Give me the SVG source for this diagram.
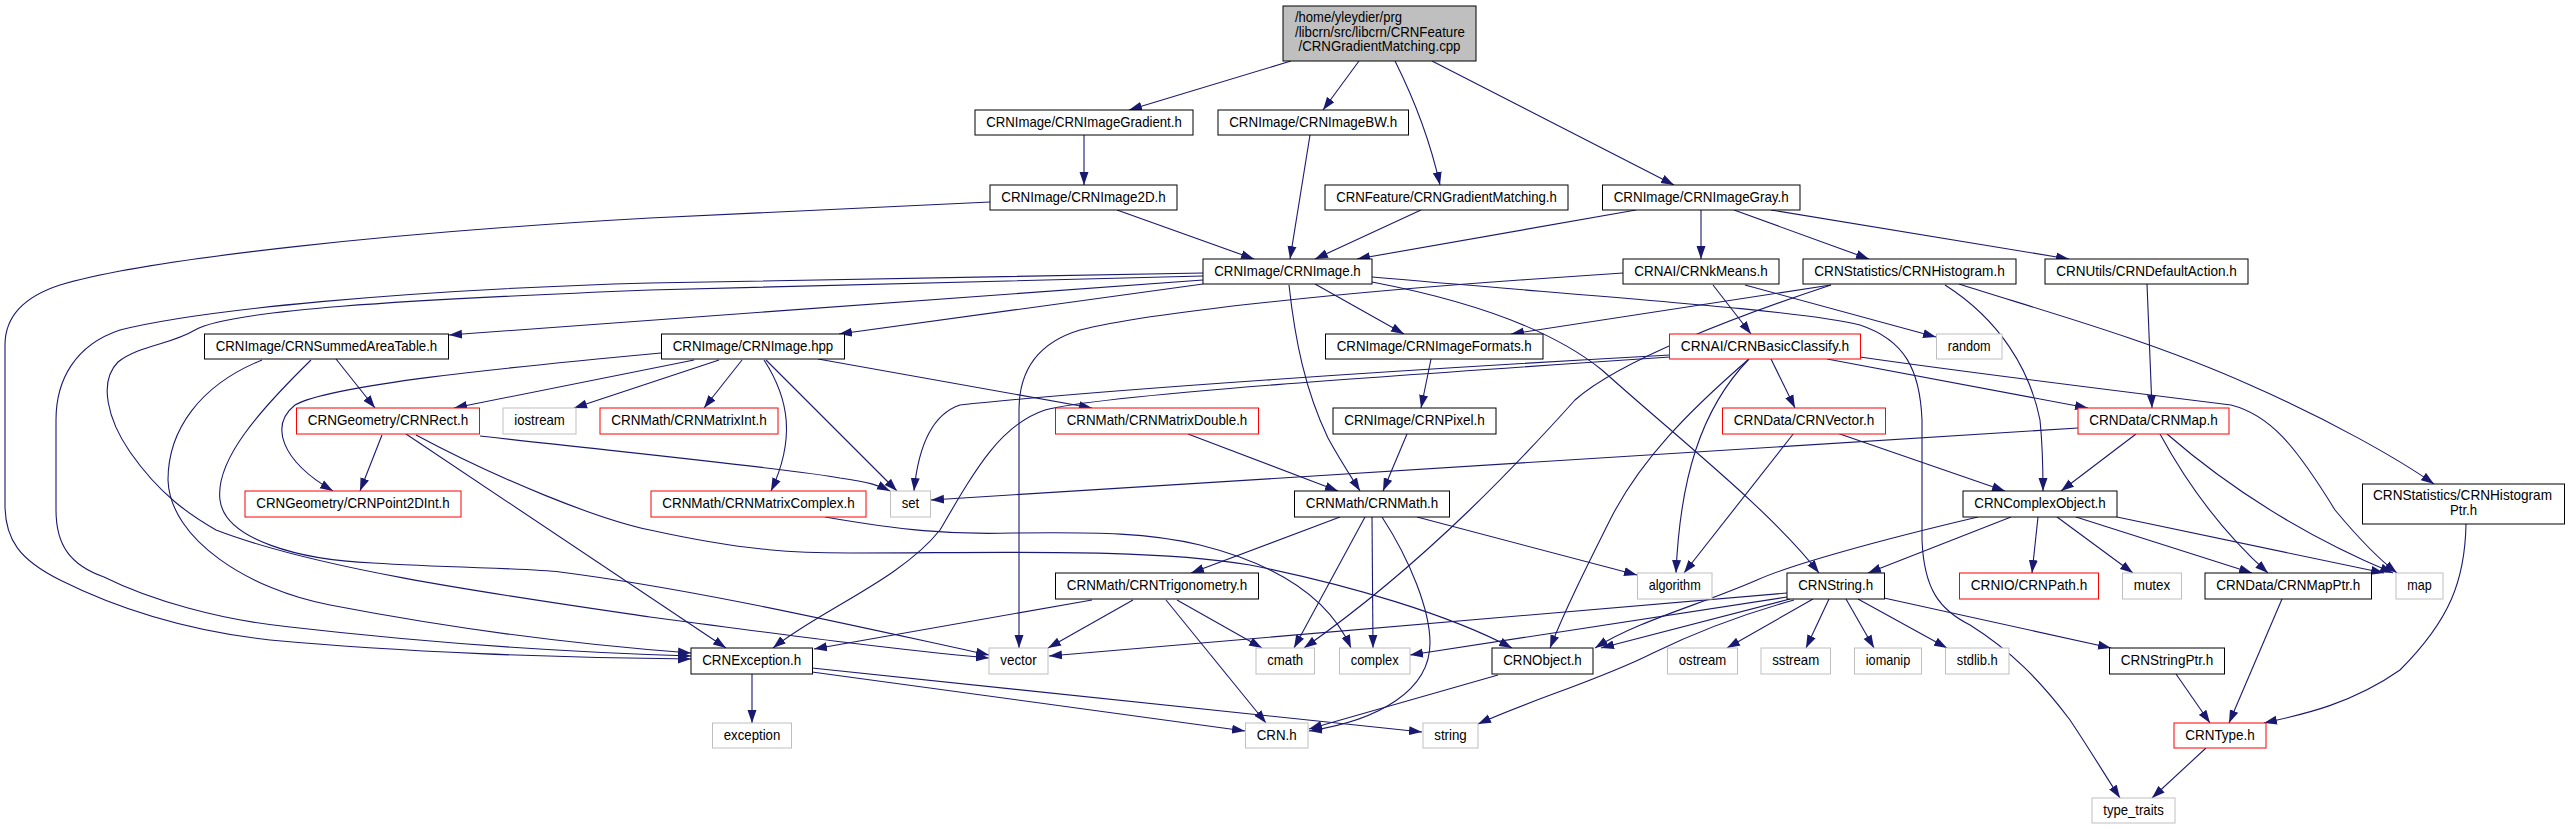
<svg xmlns="http://www.w3.org/2000/svg" width="2569" height="829" viewBox="0 0 2569 829">
<style>
rect{stroke-width:1}
.k{fill:#fff;stroke:#000}
.r{fill:#fff;stroke:#f00}
.g{fill:#fff;stroke:#bfbfbf}
.root{fill:#bfbfbf;stroke:#000}
text{font-family:"Liberation Sans",Arial,Helvetica,sans-serif;font-size:14.5px;fill:#000;text-anchor:middle}
.st{text-anchor:start}
#edges path{fill:none;stroke:#191970;stroke-width:1.1;marker-end:url(#ah)}
</style>
<defs>
<marker id="ah" markerUnits="userSpaceOnUse" markerWidth="14" markerHeight="10" refX="13" refY="5" orient="auto">
<path d="M0,0.5 L13,5 L0,9.5 z" fill="#191970"/>
</marker>
</defs>
<rect x="0" y="0" width="2569" height="829" fill="#fff"/>
<g id="edges">
<path d="M1291,61 L1129,110"/>
<path d="M1359,61 L1323,110"/>
<path d="M1395,61 C1412,95 1430,140 1440,185"/>
<path d="M1432,61 L1674,185"/>
<path d="M1084,135 L1084,185"/>
<path d="M1117,210 L1254,259"/>
<path d="M1310,135 L1290,259"/>
<path d="M1421,210 L1315,259"/>
<path d="M1636,210 L1357,259"/>
<path d="M1701,210 L1701,259"/>
<path d="M1734,210 L1869,259"/>
<path d="M1771,210 L2069,259"/>
<path d="M990,202 L650,218 C400,232 150,258 60,285 C20,298 5,320 5,345 L5,505 C5,540 20,560 60,580 C110,605 180,630 270,640 C400,652 560,658 691,659"/>
<path d="M1203,273 L650,283 C400,290 200,310 120,330 C75,345 56,380 56,420 L56,510 C56,545 70,565 104,577 C150,600 220,620 290,627 C420,642 560,652 691,656"/>
<path d="M1203,276 L650,290 C400,300 230,310 195,330 C170,345 140,345 118,362 C98,382 108,420 130,452 C160,495 190,515 216,530 C320,570 500,595 650,617 C800,637 900,650 989,658"/>
<path d="M1203,280 C900,302 650,322 449,335"/>
<path d="M1203,284 L839,334"/>
<path d="M1315,284 L1404,334"/>
<path d="M1289,285 C1295,340 1305,390 1328,438 C1340,460 1350,475 1360,491"/>
<path d="M1372,282 C1440,295 1540,320 1602,370 C1680,440 1770,510 1819,573"/>
<path d="M1372,277 C1600,297 1800,310 1860,325 C1905,340 1920,370 1922,420 L1922,540 C1924,590 1940,610 1970,625 C2010,650 2040,680 2070,720 C2090,750 2105,775 2120,798"/>
<path d="M1713,285 L1751,334"/>
<path d="M1745,285 L1936,337"/>
<path d="M1623,273 L1520,280 C1350,292 1150,312 1080,330 C1030,345 1019,380 1019,410 L1019,648"/>
<path d="M1831,285 L1511,334"/>
<path d="M1831,285 C1740,315 1620,360 1575,400 C1530,450 1430,560 1304,648"/>
<path d="M1945,285 C2000,320 2030,370 2040,420 C2043,450 2043,470 2043,491"/>
<path d="M1959,284 C2040,310 2150,340 2250,385 C2330,420 2400,460 2434,484"/>
<path d="M2147,284 L2152,408"/>
<path d="M336,359 L375,408"/>
<path d="M262,360 C200,385 168,430 168,480 C170,540 250,590 330,605 C450,628 580,645 691,653"/>
<path d="M311,360 C260,410 215,460 220,500 C225,540 300,560 373,563 C450,568 530,568 560,572 C700,590 850,625 989,655"/>
<path d="M661,353 C500,368 330,385 295,405 C270,425 280,460 333,491"/>
<path d="M694,360 L454,408"/>
<path d="M719,360 L574,408"/>
<path d="M742,360 L704,408"/>
<path d="M764,360 C790,400 795,440 771,491"/>
<path d="M766,360 L897,491"/>
<path d="M818,359 L1092,408"/>
<path d="M1431,359 L1421,408"/>
<path d="M1771,359 L1795,408"/>
<path d="M1827,359 L2088,408"/>
<path d="M1860,357 C1950,370 2150,395 2231,405 C2270,415 2295,445 2335,510 C2360,540 2380,560 2397,573"/>
<path d="M1670,355 C1400,370 1100,390 960,405 C930,415 918,450 914,491"/>
<path d="M1670,357 C1400,375 1100,395 1045,410 C1000,425 975,470 940,530 C900,580 820,610 773,648"/>
<path d="M1749,359 C1700,410 1680,480 1676,573"/>
<path d="M1749,359 C1690,410 1640,460 1610,520 C1585,570 1565,610 1550,648"/>
<path d="M1794,433 L1684,573"/>
<path d="M1837,433 L2005,491"/>
<path d="M2078,428 L931,500"/>
<path d="M2136,434 L2061,491"/>
<path d="M2160,434 C2185,480 2220,530 2268,573"/>
<path d="M2167,434 C2220,480 2290,530 2393,573"/>
<path d="M382,435 L360,491"/>
<path d="M406,434 L726,648"/>
<path d="M480,436 C650,455 800,470 840,478 C870,482 880,486 890,491"/>
<path d="M416,435 C500,480 600,520 650,530 C750,552 800,553 850,553 C1000,553 1150,548 1250,565 C1350,585 1450,615 1512,648"/>
<path d="M825,517 C900,530 950,535 1013,533 C1100,532 1150,533 1200,545 C1280,565 1330,600 1351,648"/>
<path d="M1188,434 L1338,491"/>
<path d="M1407,434 L1383,491"/>
<path d="M1340,517 L1191,573"/>
<path d="M1365,517 L1294,648"/>
<path d="M1372,517 L1373,648"/>
<path d="M1382,517 C1410,560 1430,610 1430,643 C1430,690 1380,720 1309,731"/>
<path d="M1417,517 L1637,575"/>
<path d="M2011,517 L1868,573"/>
<path d="M1978,517 C1880,540 1790,565 1757,580 C1700,605 1640,620 1595,648"/>
<path d="M2038,517 L2032,573"/>
<path d="M2057,517 L2133,573"/>
<path d="M2076,517 L2252,573"/>
<path d="M2117,517 L2384,573"/>
<path d="M1092,600 L814,649"/>
<path d="M1133,600 L1048,648"/>
<path d="M1177,600 L1262,648"/>
<path d="M1166,600 L1266,723"/>
<path d="M1787,593 L1049,656"/>
<path d="M1787,597 L1410,655"/>
<path d="M1790,599 L1601,648"/>
<path d="M1794,600 C1740,615 1690,635 1653,653 C1600,680 1530,700 1478,724"/>
<path d="M1813,599 L1727,648"/>
<path d="M1829,599 L1806,648"/>
<path d="M1846,599 L1874,648"/>
<path d="M1858,599 L1947,648"/>
<path d="M1884,598 L2111,648"/>
<path d="M752,674 L752,723"/>
<path d="M812,672 L1245,731"/>
<path d="M812,668 L1422,732"/>
<path d="M1498,675 L1309,729"/>
<path d="M2282,599 L2229,723"/>
<path d="M2176,674 L2210,723"/>
<path d="M2466,524 C2465,580 2450,620 2400,670 C2350,705 2300,715 2264,723"/>
<path d="M2206,748 L2152,798"/>
</g>
<g id="root"><rect class="root" x="1283" y="6" width="193" height="55"/>
<text class="st" x="1295" y="21.5" textLength="107" lengthAdjust="spacingAndGlyphs">/home/yleydier/prg</text>
<text class="st" x="1295" y="36.5" textLength="170" lengthAdjust="spacingAndGlyphs">/libcrn/src/libcrn/CRNFeature</text>
<text x="1379.5" y="51" textLength="162" lengthAdjust="spacingAndGlyphs">/CRNGradientMatching.cpp</text></g>
<g id="n_grad"><rect class="k" x="975" y="110" width="218" height="25"/><text x="1084" y="126.8" textLength="195.5" lengthAdjust="spacingAndGlyphs">CRNImage/CRNImageGradient.h</text></g>
<g id="n_bw"><rect class="k" x="1218" y="110" width="190.5" height="25"/><text x="1313.2" y="126.8" textLength="168" lengthAdjust="spacingAndGlyphs">CRNImage/CRNImageBW.h</text></g>
<g id="n_img2d"><rect class="k" x="990" y="185" width="187" height="25"/><text x="1083.5" y="201.8" textLength="164.5" lengthAdjust="spacingAndGlyphs">CRNImage/CRNImage2D.h</text></g>
<g id="n_gm"><rect class="k" x="1325" y="185" width="243" height="25"/><text x="1446.5" y="201.8" textLength="220.5" lengthAdjust="spacingAndGlyphs">CRNFeature/CRNGradientMatching.h</text></g>
<g id="n_gray"><rect class="k" x="1602.5" y="185" width="197.5" height="25"/><text x="1701.2" y="201.8" textLength="175" lengthAdjust="spacingAndGlyphs">CRNImage/CRNImageGray.h</text></g>
<g id="n_img"><rect class="k" x="1203" y="259" width="169" height="25"/><text x="1287.5" y="275.8" textLength="146.5" lengthAdjust="spacingAndGlyphs">CRNImage/CRNImage.h</text></g>
<g id="n_kmeans"><rect class="k" x="1623" y="259" width="156" height="25"/><text x="1701" y="275.8" textLength="133.5" lengthAdjust="spacingAndGlyphs">CRNAI/CRNkMeans.h</text></g>
<g id="n_hist"><rect class="k" x="1803" y="259" width="213" height="25"/><text x="1909.5" y="275.8" textLength="190.5" lengthAdjust="spacingAndGlyphs">CRNStatistics/CRNHistogram.h</text></g>
<g id="n_def"><rect class="k" x="2045" y="259" width="203" height="25"/><text x="2146.5" y="275.8" textLength="180.5" lengthAdjust="spacingAndGlyphs">CRNUtils/CRNDefaultAction.h</text></g>
<g id="n_sat"><rect class="k" x="204.5" y="334" width="244" height="25"/><text x="326.5" y="350.8" textLength="221.5" lengthAdjust="spacingAndGlyphs">CRNImage/CRNSummedAreaTable.h</text></g>
<g id="n_hpp"><rect class="k" x="661.5" y="334" width="183" height="25"/><text x="753" y="350.8" textLength="160.5" lengthAdjust="spacingAndGlyphs">CRNImage/CRNImage.hpp</text></g>
<g id="n_fmt"><rect class="k" x="1325.5" y="334" width="217.5" height="25"/><text x="1434.2" y="350.8" textLength="195" lengthAdjust="spacingAndGlyphs">CRNImage/CRNImageFormats.h</text></g>
<g id="n_bc"><rect class="r" x="1669.5" y="334" width="191" height="25"/><text x="1765" y="350.8" textLength="168.5" lengthAdjust="spacingAndGlyphs">CRNAI/CRNBasicClassify.h</text></g>
<g id="n_random"><rect class="g" x="1936.5" y="334" width="65.5" height="25"/><text x="1969.2" y="350.8" textLength="43" lengthAdjust="spacingAndGlyphs">random</text></g>
<g id="n_rect"><rect class="r" x="296.5" y="408" width="183" height="26"/><text x="388" y="425.3" textLength="160.5" lengthAdjust="spacingAndGlyphs">CRNGeometry/CRNRect.h</text></g>
<g id="n_iostream"><rect class="g" x="503" y="408" width="73" height="26"/><text x="539.5" y="425.3" textLength="50.5" lengthAdjust="spacingAndGlyphs">iostream</text></g>
<g id="n_mint"><rect class="r" x="600" y="408" width="178" height="26"/><text x="689" y="425.3" textLength="155.5" lengthAdjust="spacingAndGlyphs">CRNMath/CRNMatrixInt.h</text></g>
<g id="n_mdbl"><rect class="r" x="1055.5" y="408" width="203" height="26"/><text x="1157" y="425.3" textLength="180.5" lengthAdjust="spacingAndGlyphs">CRNMath/CRNMatrixDouble.h</text></g>
<g id="n_pixel"><rect class="k" x="1333" y="408" width="163" height="26"/><text x="1414.5" y="425.3" textLength="140.5" lengthAdjust="spacingAndGlyphs">CRNImage/CRNPixel.h</text></g>
<g id="n_vec"><rect class="r" x="1722.5" y="408" width="163" height="26"/><text x="1804" y="425.3" textLength="140.5" lengthAdjust="spacingAndGlyphs">CRNData/CRNVector.h</text></g>
<g id="n_map"><rect class="r" x="2078" y="408" width="151" height="26"/><text x="2153.5" y="425.3" textLength="128.5" lengthAdjust="spacingAndGlyphs">CRNData/CRNMap.h</text></g>
<g id="n_p2d"><rect class="r" x="245" y="491" width="216" height="26"/><text x="353" y="508.3" textLength="193.5" lengthAdjust="spacingAndGlyphs">CRNGeometry/CRNPoint2DInt.h</text></g>
<g id="n_mcpx"><rect class="r" x="651" y="491" width="215" height="26"/><text x="758.5" y="508.3" textLength="192.5" lengthAdjust="spacingAndGlyphs">CRNMath/CRNMatrixComplex.h</text></g>
<g id="n_set"><rect class="g" x="890.5" y="491" width="40" height="26"/><text x="910.5" y="508.3" textLength="17.5" lengthAdjust="spacingAndGlyphs">set</text></g>
<g id="n_math"><rect class="k" x="1294.5" y="491" width="155" height="26"/><text x="1372" y="508.3" textLength="132.5" lengthAdjust="spacingAndGlyphs">CRNMath/CRNMath.h</text></g>
<g id="n_cobj"><rect class="k" x="1963" y="491" width="154" height="26"/><text x="2040" y="508.3" textLength="131.5" lengthAdjust="spacingAndGlyphs">CRNComplexObject.h</text></g>
<g id="n_hptr"><rect class="k" x="2362.5" y="484" width="202" height="40"/>
<text class="st" x="2373" y="500" textLength="179" lengthAdjust="spacingAndGlyphs">CRNStatistics/CRNHistogram</text>
<text x="2463.5" y="514.5" textLength="27" lengthAdjust="spacingAndGlyphs">Ptr.h</text></g>
<g id="n_trig"><rect class="k" x="1055.5" y="573" width="203" height="26"/><text x="1157" y="590.3" textLength="180.5" lengthAdjust="spacingAndGlyphs">CRNMath/CRNTrigonometry.h</text></g>
<g id="n_algo"><rect class="g" x="1637.5" y="573" width="74.5" height="26"/><text x="1674.7" y="590.3" textLength="52" lengthAdjust="spacingAndGlyphs">algorithm</text></g>
<g id="n_str"><rect class="k" x="1787" y="573" width="97.5" height="26"/><text x="1835.7" y="590.3" textLength="75" lengthAdjust="spacingAndGlyphs">CRNString.h</text></g>
<g id="n_path"><rect class="r" x="1959.5" y="573" width="139" height="26"/><text x="2029" y="590.3" textLength="116.5" lengthAdjust="spacingAndGlyphs">CRNIO/CRNPath.h</text></g>
<g id="n_mutex"><rect class="g" x="2122.5" y="573" width="59" height="26"/><text x="2152" y="590.3" textLength="36.5" lengthAdjust="spacingAndGlyphs">mutex</text></g>
<g id="n_mptr"><rect class="k" x="2205" y="573" width="166.5" height="26"/><text x="2288.2" y="590.3" textLength="144" lengthAdjust="spacingAndGlyphs">CRNData/CRNMapPtr.h</text></g>
<g id="n_mapstd"><rect class="g" x="2396" y="573" width="47" height="26"/><text x="2419.5" y="590.3" textLength="24.5" lengthAdjust="spacingAndGlyphs">map</text></g>
<g id="n_exc"><rect class="k" x="691" y="648" width="121.5" height="26"/><text x="751.7" y="665.3" textLength="99" lengthAdjust="spacingAndGlyphs">CRNException.h</text></g>
<g id="n_vector"><rect class="g" x="989" y="648" width="59" height="26"/><text x="1018.5" y="665.3" textLength="36.5" lengthAdjust="spacingAndGlyphs">vector</text></g>
<g id="n_cmath"><rect class="g" x="1256" y="648" width="58.5" height="26"/><text x="1285.2" y="665.3" textLength="36" lengthAdjust="spacingAndGlyphs">cmath</text></g>
<g id="n_complex"><rect class="g" x="1339.5" y="648" width="70.5" height="26"/><text x="1374.7" y="665.3" textLength="48" lengthAdjust="spacingAndGlyphs">complex</text></g>
<g id="n_obj"><rect class="k" x="1492" y="648" width="101" height="26"/><text x="1542.5" y="665.3" textLength="78.5" lengthAdjust="spacingAndGlyphs">CRNObject.h</text></g>
<g id="n_ostream"><rect class="g" x="1667.5" y="648" width="70" height="26"/><text x="1702.5" y="665.3" textLength="47.5" lengthAdjust="spacingAndGlyphs">ostream</text></g>
<g id="n_sstream"><rect class="g" x="1761" y="648" width="69.5" height="26"/><text x="1795.7" y="665.3" textLength="47" lengthAdjust="spacingAndGlyphs">sstream</text></g>
<g id="n_iomanip"><rect class="g" x="1854.5" y="648" width="67" height="26"/><text x="1888" y="665.3" textLength="44.5" lengthAdjust="spacingAndGlyphs">iomanip</text></g>
<g id="n_stdlib"><rect class="g" x="1945.5" y="648" width="63.5" height="26"/><text x="1977.2" y="665.3" textLength="41" lengthAdjust="spacingAndGlyphs">stdlib.h</text></g>
<g id="n_sptr"><rect class="k" x="2109.5" y="648" width="115" height="26"/><text x="2167" y="665.3" textLength="92.5" lengthAdjust="spacingAndGlyphs">CRNStringPtr.h</text></g>
<g id="n_exception"><rect class="g" x="712.5" y="723" width="79" height="25"/><text x="752" y="739.8" textLength="56.5" lengthAdjust="spacingAndGlyphs">exception</text></g>
<g id="n_crn"><rect class="g" x="1245.5" y="723" width="62.5" height="25"/><text x="1276.7" y="739.8" textLength="40" lengthAdjust="spacingAndGlyphs">CRN.h</text></g>
<g id="n_string"><rect class="g" x="1423" y="723" width="55" height="25"/><text x="1450.5" y="739.8" textLength="32.5" lengthAdjust="spacingAndGlyphs">string</text></g>
<g id="n_type"><rect class="r" x="2174" y="723" width="92" height="25"/><text x="2220" y="739.8" textLength="69.5" lengthAdjust="spacingAndGlyphs">CRNType.h</text></g>
<g id="n_tt"><rect class="g" x="2092" y="798" width="83" height="25"/><text x="2133.5" y="814.8" textLength="60.5" lengthAdjust="spacingAndGlyphs">type_traits</text></g>
</svg>
